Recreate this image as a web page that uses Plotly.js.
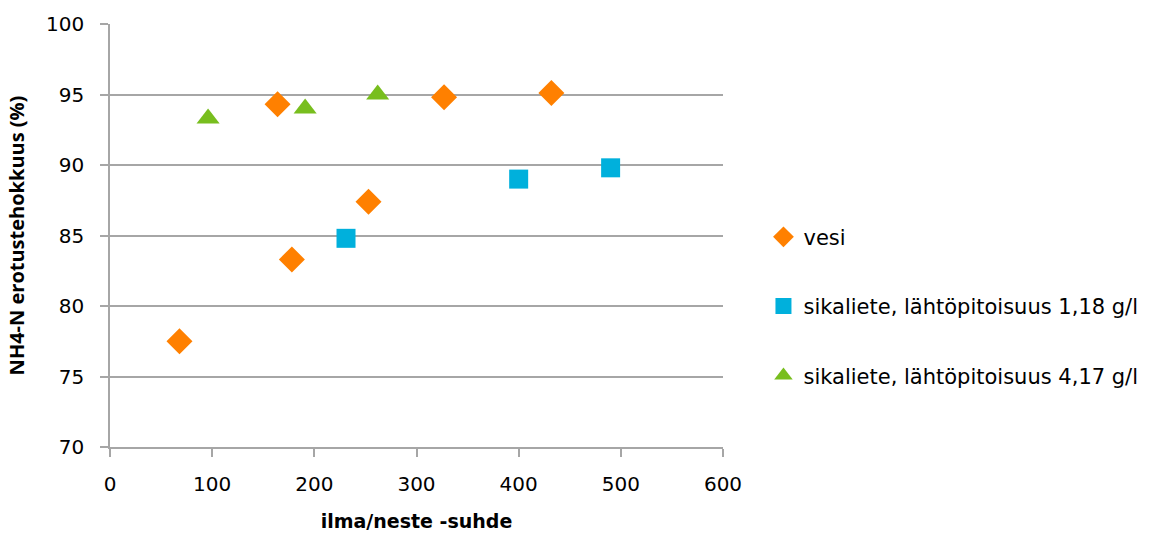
<!DOCTYPE html>
<html><head><meta charset="utf-8">
<script src="https://cdn.plot.ly/plotly-3.0.1.min.js"></script>
<style>html,body{margin:0;padding:0;background:#fff}#chart{width:1158px;height:534px}</style>
</head><body><div id="chart"></div>
<script>
const vesiX = [68, 164, 178, 253, 327, 432];
const vesiY = [77.5, 94.3, 83.3, 87.4, 94.8, 95.1];
const sika1X = [231, 400, 490];
const sika1Y = [84.8, 89.0, 89.8];
const sika4X = [96, 191, 262];
const sika4Y = [93.3, 94.0, 95.0];
const names = ["vesi", "sikaliete, lähtöpitoisuus 1,18 g/l", "sikaliete, lähtöpitoisuus 4,17 g/l"];
const xTicks = [0, 100, 200, 300, 400, 500, 600];
const yTicks = [70, 75, 80, 85, 90, 95, 100];

const font = "'DejaVu Sans', sans-serif";
const traces = [
  {x: vesiX, y: vesiY, name: names[0], legendgroup: "a", mode: "markers", type: "scatter",
   marker: {symbol: "diamond", size: 20, color: "#ff8000"}},
  {x: sika1X, y: sika1Y, name: names[1], legendgroup: "b", mode: "markers", type: "scatter",
   marker: {symbol: "square", size: 19, color: "#00b0dc"}},
  {x: sika4X, y: sika4Y, name: names[2], legendgroup: "c", mode: "markers", type: "scatter",
   marker: {symbol: "triangle-up", size: 20, color: "#78be1e"}}
];
const layout = {
  width: 1158, height: 534,
  margin: {l: 110, r: 435, t: 24, b: 87},
  paper_bgcolor: "#fff", plot_bgcolor: "#fff",
  font: {family: font, size: 20, color: "#000"},
  showlegend: true,
  legend: {x: 1.066, xanchor: "left", y: 0.333, yanchor: "middle", traceorder: "grouped",
           tracegroupgap: 39, font: {size: 21, family: font}, itemwidth: 30},
  xaxis: {range: [0, 600], tickvals: xTicks, ticktext: xTicks.map(String), showgrid: false,
          zeroline: false, showline: true, linecolor: "#a6a6a6", linewidth: 1.5,
          ticks: "outside", ticklen: 8, tickcolor: "#a6a6a6", tickwidth: 1.5,
          ticklabelstandoff: 10,
          title: {text: "<b>ilma/neste -suhde</b>", font: {size: 19, family: font}, standoff: 20}},
  yaxis: {range: [70, 100], tickvals: yTicks, ticktext: yTicks.map(String), showgrid: true,
          gridcolor: "#a6a6a6", gridwidth: 1.5, zeroline: false, showline: true,
          linecolor: "#a6a6a6", linewidth: 1.5, ticks: "outside", ticklen: 8,
          tickcolor: "#a6a6a6", tickwidth: 1.5, ticklabelstandoff: 12,
          title: {text: "<b>NH4-N erotustehokkuus (%)</b>",
                  font: {size: 20, family: "'Open Sans', sans-serif"}, standoff: 16}}
};
Plotly.newPlot("chart", traces, layout, {displayModeBar: false});
</script></body></html>
